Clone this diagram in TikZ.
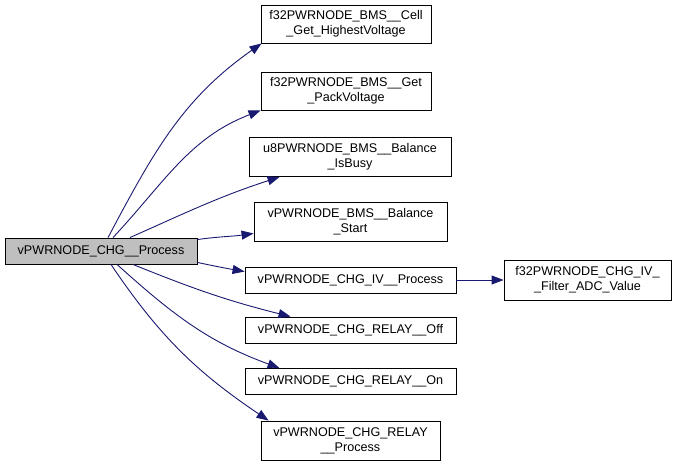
\documentclass[tikz,border=0pt]{standalone}
\usepackage{fontspec}
\setmainfont{Liberation Sans}
\usetikzlibrary{arrows.meta}
\definecolor{edgeblue}{RGB}{25,25,112}
\definecolor{maingray}{RGB}{191,191,191}
\begin{document}
\begin{tikzpicture}[x=1pt,y=1pt,
  box/.style={draw=black,line width=0.9pt,fill=white,inner sep=0pt,align=center,
    font=\fontsize{12.6}{15}\selectfont},
  callee/.style={draw=edgeblue,line width=0.9pt,-{Triangle[length=12pt,width=9pt]}}]
\useasboundingbox (0,0) rectangle (677,-467);
\node[box,fill=maingray,minimum width=192,minimum height=26] (main) at (101,-251) {vPWRNODE\_CHG\_\_Process};
\node[box,minimum width=170,minimum height=38] (cell) at (346,-24) {f32PWRNODE\_BMS\_\_Cell\\\_Get\_HighestVoltage};
\node[box,minimum width=170,minimum height=38] (pack) at (346,-91) {f32PWRNODE\_BMS\_\_Get\\\_PackVoltage};
\node[box,minimum width=202,minimum height=39] (busy) at (350,-157) {u8PWRNODE\_BMS\_\_Balance\\\_IsBusy};
\node[box,minimum width=193,minimum height=39] (start) at (350.5,-221.5) {vPWRNODE\_BMS\_\_Balance\\\_Start};
\node[box,minimum width=211,minimum height=26] (iv) at (350.5,-280) {vPWRNODE\_CHG\_IV\_\_Process};
\node[box,minimum width=211,minimum height=26] (off) at (350.5,-330) {vPWRNODE\_CHG\_RELAY\_\_Off};
\node[box,minimum width=211,minimum height=26] (on) at (350.5,-381.5) {vPWRNODE\_CHG\_RELAY\_\_On};
\node[box,minimum width=179,minimum height=39] (rproc) at (350.5,-440.5) {vPWRNODE\_CHG\_RELAY\\\_\_Process};
\node[box,minimum width=167,minimum height=40] (filter) at (587.5,-280) {f32PWRNODE\_CHG\_IV\_\\\_Filter\_ADC\_Value};

\draw[callee] ([xshift=7]main.north) to[out=62,in=215] ([xshift=1]cell.south west);
\draw[callee] ([xshift=12]main.north) to[out=47,in=201] (pack.south west);
\draw[callee] ([xshift=29]main.north) to[out=24,in=198] ([xshift=31]busy.south west);
\draw[callee] ([yshift=-2]main.north east) to[out=8,in=188] ([yshift=8]start.south west);
\draw[callee] ([yshift=2]main.south east) to[out=-12,in=170] ([yshift=-5]iv.north west);
\draw[callee] ([xshift=32]main.south) to[out=-22,in=166] ([xshift=46]off.north west);
\draw[callee] ([xshift=16]main.south) to[out=-42,in=160] ([xshift=35]on.north west);
\draw[callee] ([xshift=10]main.south) to[out=-56,in=146] ([xshift=8]rproc.north west);
\draw[callee] (iv.east) -- (filter.west);
\end{tikzpicture}
\end{document}
